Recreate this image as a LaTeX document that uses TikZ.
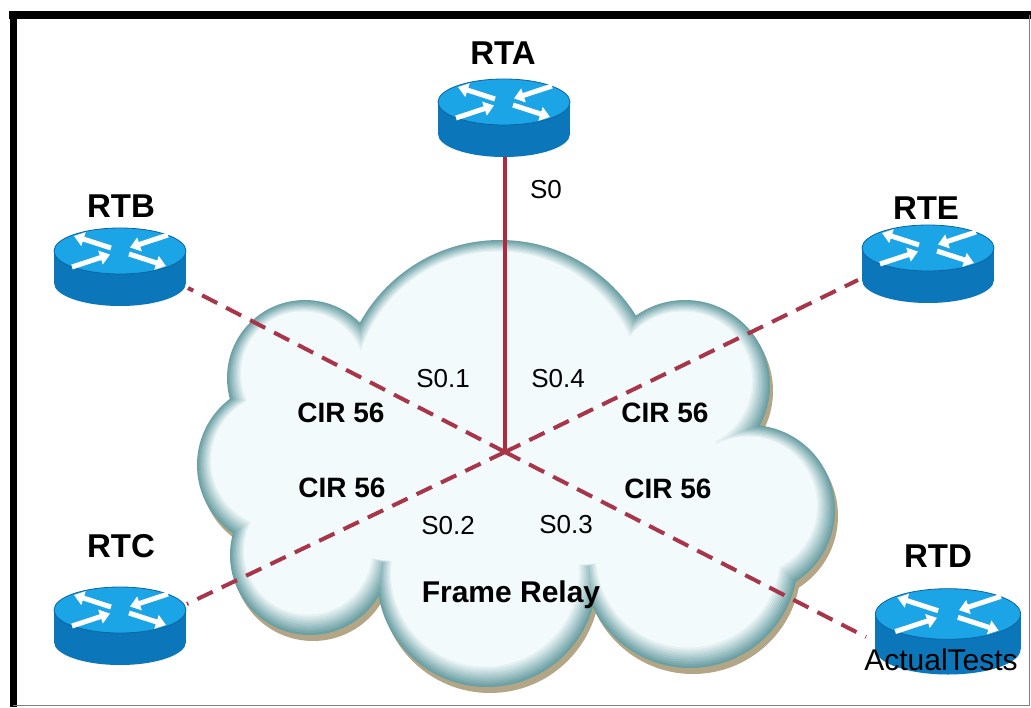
\documentclass[tikz,border=0pt]{standalone}
\usepackage{fontspec}
\setmainfont{Liberation Sans}
\usetikzlibrary{arrows.meta}

\definecolor{rtop}{HTML}{1CA5E6}
\definecolor{rbody}{HTML}{0B77BA}
\definecolor{redge}{HTML}{0A64A0}
\definecolor{linkred}{HTML}{B02A3E}
\definecolor{dashred}{HTML}{A8364A}
\definecolor{cshadow}{HTML}{B3A687}
\definecolor{crim}{HTML}{6A9FA3}
\definecolor{ccore}{HTML}{F3FAFC}

% one layer of the cloud: circles shrunk by #3, shifted by (#1,#2)
\newcommand\cloudlayer[4]{%
  \begin{scope}[shift={(#1,#2)}]
    \fill[#4] (500,400) circle ({160-#3})
              (305,378) circle ({78-#3})
              (280,465) circle ({83-#3})
              (310,555) circle ({80-#3})
              (487,577) circle ({110-#3})
              (690,560) circle ({108-#3})
              (750,510) circle ({85-#3})
              (685,385) circle ({85-#3});
    \fill[#4] (500,400) -- (305,378) -- (280,465) -- (310,555) -- (487,577)
              -- (690,560) -- (750,510) -- (685,385) -- cycle;
  \end{scope}}

\tikzset{
  rarrow/.style={white, line width=5pt, -{Triangle[length=10pt,width=14pt]}},
  router/.pic={
    \fill[rbody] (-66,0) rectangle (66,32);
    \fill[rbody] (0,32) ellipse (66 and 23);
    \fill[rtop] (0,0) ellipse (66 and 23);
    \draw[redge, line width=0.8pt] (0,0) ellipse (66 and 23);
    \draw[rarrow] (-9,-3) -- (-46,-15);
    \draw[rarrow] (9,3) -- (46,15);
    \draw[rarrow] (48,-16) -- (10,-3.5);
    \draw[rarrow] (-48,16) -- (-10,3.5);
  },
  rlabel/.style={font=\fontsize{33}{36}\selectfont\bfseries, anchor=base, inner sep=0pt},
  iflabel/.style={font=\fontsize{26}{28}\selectfont, anchor=base, inner sep=0pt},
  cirlabel/.style={font=\fontsize{28}{30}\selectfont\bfseries, anchor=base, inner sep=0pt},
  seriallink/.style={linkred, line width=4pt},
  pvc/.style={dashred, line width=4pt, dash pattern=on 17pt off 10pt},
}

\begin{document}
\begin{tikzpicture}[x=1pt, y=-1pt]
  \fill[white] (0,0) rectangle (1031,707);
  \useasboundingbox (0,0) rectangle (1031,707);

  % frame
  \draw[black, line width=8pt] (9,15) -- (1031,15);
  \draw[black, line width=6.5pt] (13.25,11) -- (13.25,707);
  \draw[gray, line width=1pt] (1029.5,15) -- (1029.5,705.5) -- (13,705.5);

  % Frame Relay cloud: brownish drop shadow, then a rim fading inwards
  \cloudlayer{3}{6}{0}{cshadow}
  \foreach \k in {0,...,10}{
    \pgfmathsetmacro\p{int(\k*10)}
    \pgfmathsetmacro\dx{-0.2*\k}
    \pgfmathsetmacro\dy{-0.45*\k}
    \pgfmathsetmacro\dr{1.6*\k}
    \cloudlayer{\dx}{\dy}{\dr}{ccore!\p!crim}
  }

  % link end points
  \coordinate (hub) at (505,452);
  \coordinate (rtaport) at (505,150);
  \coordinate (rtbport) at (188,288);
  \coordinate (rteport) at (858,280);
  \coordinate (rtcport) at (187,604);
  \coordinate (rtdport) at (866,637);

  % links
  \draw[seriallink] (rtaport) -- (hub);
  \draw[pvc] (hub) -- (rtbport);
  \draw[pvc] (hub) -- (rteport);
  \draw[pvc] (hub) -- (rtcport);
  \draw[pvc] (hub) -- (rtdport);

  % routers
  \pic (rta) at (504,102) {router};
  \pic (rtb) at (120,251) {router};
  \pic (rte) at (928,248) {router};
  \pic (rtc) at (120,610) {router};
  \pic[scale=1.1] (rtd) at (948,614) {router};

  % router names
  \node[rlabel] (lrta) at (503,64) {RTA};
  \node[rlabel] (lrtb) at (121,217) {RTB};
  \node[rlabel] (lrte) at (926,219) {RTE};
  \node[rlabel] (lrtc) at (121,557) {RTC};
  \node[rlabel] (lrtd) at (938,567) {RTD};

  % interface labels
  \node[iflabel] (s0) at (546,198) {S0};
  \node[iflabel] (s01) at (443,387) {S0.1};
  \node[iflabel] (s04) at (558,387) {S0.4};
  \node[iflabel] (s02) at (448,534) {S0.2};
  \node[iflabel] (s03) at (566,533) {S0.3};

  % committed rates
  \node[cirlabel] (cir1) at (341,422) {CIR 56};
  \node[cirlabel] (cir4) at (665,422) {CIR 56};
  \node[cirlabel] (cir2) at (342,497) {CIR 56};
  \node[cirlabel] (cir3) at (668,498) {CIR 56};

  \node[font=\fontsize{30}{32}\selectfont\bfseries, anchor=base, inner sep=0pt] (fr) at (511,602) {Frame Relay};
  \node[font=\fontsize{30}{32}\selectfont, anchor=base, inner sep=0pt] (mark) at (941,670) {ActualTests};
\end{tikzpicture}
\end{document}
